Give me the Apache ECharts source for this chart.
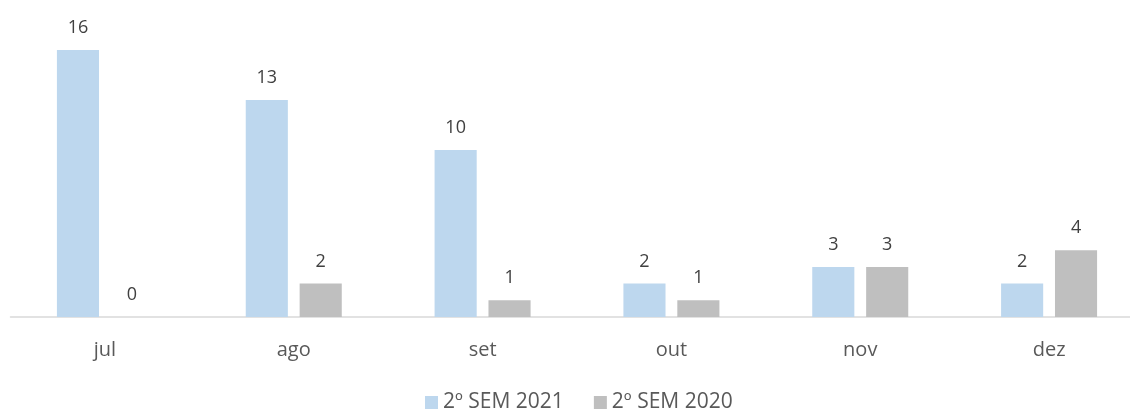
<!DOCTYPE html>
<html>
<head>
<meta charset="utf-8">
<script src="https://cdn.jsdelivr.net/npm/echarts@6/dist/echarts.min.js"></script>
<style>
  html, body { margin: 0; padding: 0; background: #fff; overflow: hidden; }
  #chart { width: 1150px; height: 410px; }
</style>
</head>
<body>
<div id="chart"></div>
<script>
'use strict';

var months = ['jul', 'ago', 'set', 'out', 'nov', 'dez'];
var sem2021 = [16, 13, 10, 2, 3, 2];
var sem2020 = [0, 2, 1, 1, 3, 4];
var seriesNames = ['2º SEM 2021', '2º SEM 2020'];

var fontFamily = 'Open Sans, Liberation Sans, sans-serif';

var chart = echarts.init(document.getElementById('chart'));

var barLabel = {
  show: true,
  position: 'top',
  distance: 13,
  color: '#404040',
  fontSize: 18,
  fontFamily: fontFamily
};

chart.setOption({
  animation: false,
  grid: { left: 10.5, right: 6.5, top: 16.5, bottom: 93 },
  legend: {
    top: 392,
    left: 425,
    padding: 0,
    itemWidth: 13,
    itemHeight: 13,
    itemGap: 30,
    icon: 'rect',
    textStyle: { color: '#595959', fontSize: 21, fontFamily: fontFamily },
    data: seriesNames
  },
  xAxis: {
    type: 'category',
    data: months,
    axisLine: { lineStyle: { color: '#d9d9d9', width: 1.5 } },
    axisTick: { show: false },
    axisLabel: { color: '#595959', fontSize: 20, fontFamily: fontFamily, margin: 23 }
  },
  yAxis: {
    type: 'value',
    min: 0,
    max: 18,
    show: false,
    splitLine: { show: false }
  },
  series: [
    {
      name: seriesNames[0],
      type: 'bar',
      data: sem2021,
      barWidth: '22.3%',
      barGap: '28%',
      itemStyle: { color: '#BDD7EE' },
      label: barLabel
    },
    {
      name: seriesNames[1],
      type: 'bar',
      data: sem2020,
      barWidth: '22.3%',
      itemStyle: { color: '#BFBFBF' },
      label: barLabel
    }
  ]
});
</script>
</body>
</html>
